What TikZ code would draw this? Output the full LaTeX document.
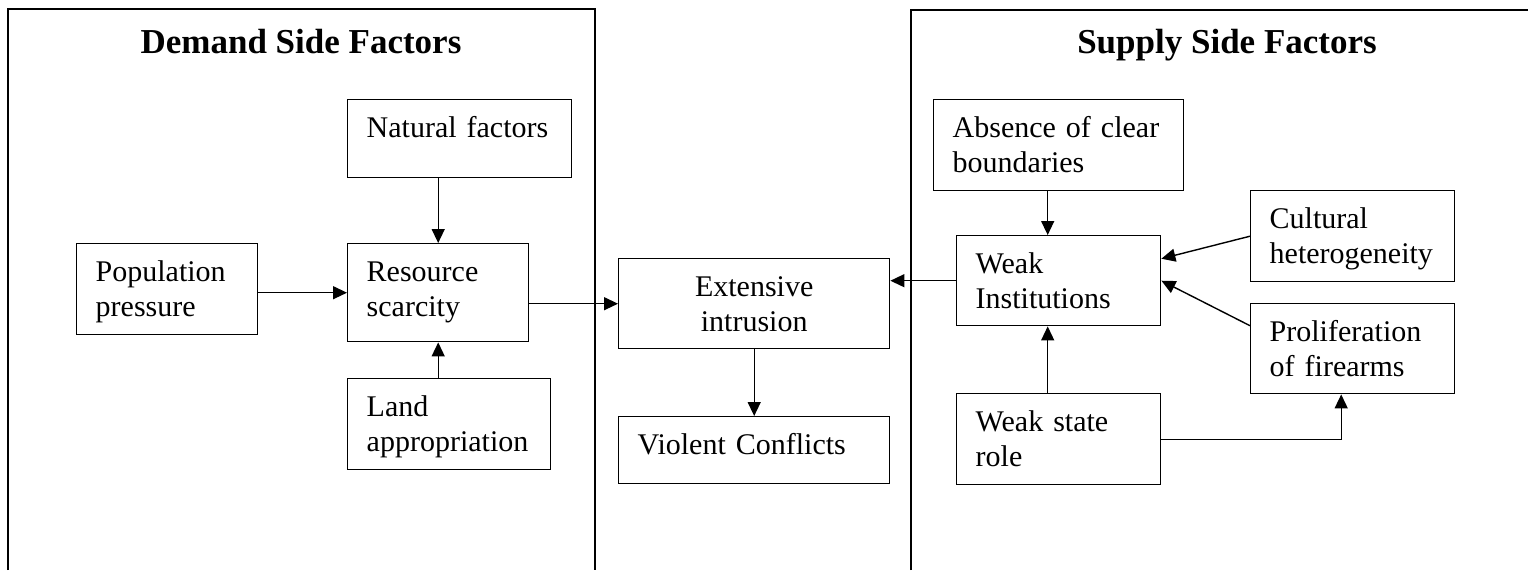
\documentclass[tikz,border=0pt]{standalone}
\usepackage{fontspec}
\setmainfont{Liberation Serif}
\usetikzlibrary{arrows.meta}
\hyphenpenalty=10000
\tikzset{
  factorbox/.style={draw=black, line width=0.7pt, anchor=north west, align=left,
    inner xsep=9.5pt, inner ysep=0pt, text height=19pt,
    font=\fontsize{15}{17.25}\selectfont},
  sidetitle/.style={anchor=base, font=\fontsize{17.5}{21}\selectfont\bfseries},
  sideframe/.style={draw=black, line width=0.6pt}
}
\begin{document}
\begin{tikzpicture}[x=0.5pt, y=-0.5pt]
  \useasboundingbox (0,0) rectangle (1528,570);
  % the two side frames
  \draw[sideframe] (8,570) -- (8,9) -- (595,9) -- (595,570);
  \draw[sideframe] (911,570) -- (911,10) -- (1528,10);
  \node[sidetitle] (demand) at (301,53) {Demand Side Factors};
  \node[sidetitle] (supply) at (1227,53) {Supply Side Factors};
  \begin{scope}[every node/.style={factorbox}]
    % demand side
    \node[text width=93pt, text depth=20pt] (nat) at (347,99) {Natural factors};
    \node[text width=71.5pt, text depth=26.5pt] (pop) at (76,243) {Population\\pressure};
    \node[text width=71.5pt, text depth=30pt] (res) at (347,243) {Resource\\scarcity};
    \node[text width=82.5pt, text depth=26.5pt] (land) at (347,378) {Land\\appropriation};
    % middle
    \node[text width=116.5pt, text depth=26pt, align=center] (ext) at (618,258) {Extensive\\intrusion};
    \node[text width=116.5pt, text depth=14.5pt] (viol) at (618,416) {Violent Conflicts};
    % supply side
    \node[text width=106pt, text depth=26.5pt] (abs) at (933,99) {Absence of clear\\boundaries};
    \node[text width=83pt, text depth=26pt] (weak) at (956,235) {Weak\\Institutions};
    \node[text width=83pt, text depth=26.5pt] (cult) at (1250,190) {Cultural\\heterogeneity};
    \node[text width=83pt, text depth=26pt] (prol) at (1250,303) {Proliferation\\of firearms};
    \node[text width=83pt, text depth=26.5pt] (state) at (956,393) {Weak state\\role};
  \end{scope}
  \begin{scope}[every edge/.style={draw=black, line width=0.7pt, -{Triangle[length=7pt,width=6.5pt]}}]
    \path (nat.south -| res.north) edge (res.north);
    \path (land.north -| res.south) edge (res.south);
    \path (pop.east |- res.west) edge (res.west);
    \path (res.east |- ext.west) edge (ext.west);
    \path (ext) edge (viol);
    \path (weak.west) edge (weak.west -| ext.east);
    \path ([xshift=-5.5pt]abs.south) edge ([xshift=-5.5pt]weak.north);
    \path ([xshift=-5.5pt]state.north) edge ([xshift=-5.5pt]weak.south);
    \path (cult.west) edge ([yshift=11pt]weak.east);
    \path ([yshift=11.5pt]prol.west) edge (weak.east);
    \path (state.east) edge[to path={-| (\tikztotarget)}] ([xshift=-5.75pt]prol.south);
  \end{scope}
\end{tikzpicture}
\end{document}
